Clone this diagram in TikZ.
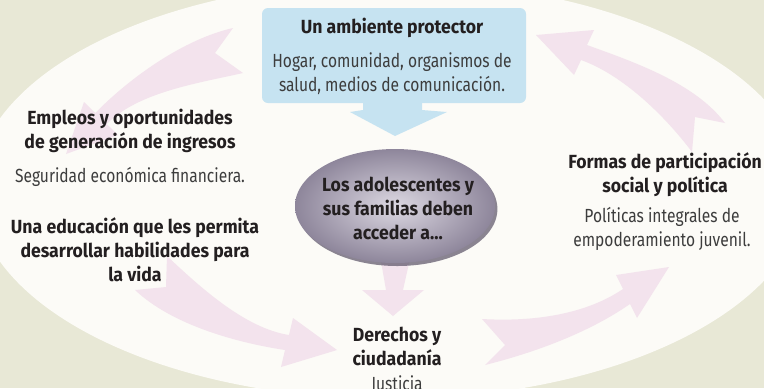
\documentclass[tikz,border=0pt]{standalone}
\usepackage{fontspec}
\setmainfont{Fira Sans}[FakeStretch=0.82]
\newfontfamily\negrita{Fira Sans}[FakeStretch=0.93]
\usetikzlibrary{shapes.geometric,shadows}
\definecolor{fondo}{HTML}{E8E8D6}
\definecolor{claro}{HTML}{FCFBF7}
\definecolor{celeste}{HTML}{C6E3F1}
\definecolor{rosa}{HTML}{F3E3ED}
\definecolor{texto}{HTML}{231F20}
\definecolor{gris}{HTML}{3D3D3D}
\definecolor{nucleoclaro}{HTML}{DCD8E2}
\definecolor{nucleooscuro}{HTML}{8E869B}
\definecolor{nucleosombra}{HTML}{5A5266}
\begin{document}
\begin{tikzpicture}[x=0.5pt,y=-0.5pt, titulo/.style={anchor=base, inner sep=0pt, align=center, text=texto, font=\negrita\bfseries\fontsize{9.5}{12}\selectfont},
 detalle/.style={anchor=base, inner sep=0pt, align=center, text=gris, font=\fontsize{9.5}{11.8}\selectfont},
 caja/.style={rectangle, rounded corners=3pt, fill=celeste, minimum width=132pt, minimum height=47.5pt},
 nucleo/.style={ellipse, inner sep=0pt, minimum width=100pt, minimum height=57pt, inner color=nucleoclaro, outer color=nucleooscuro, drop shadow={fill=nucleosombra, opacity=0.7, shadow xshift=1.2pt, shadow yshift=-1.5pt}},
 flecha/.style={fill=rosa}]
  \useasboundingbox (0,0) rectangle (764,388);
  \clip (0,0) rectangle (764,388);
  \fill[fondo] (0,0) rectangle (764,388);
  \fill[claro] (390,190) ellipse [x radius=415, y radius=209];

  \fill[flecha] (233,28) -- (215,53) -- (243,73) .. controls (199,83) and (138,92) .. (106.7,124) -- (118,135) -- (66,154) -- (84,102) -- (95.3,113) .. controls (130,77.5) and (184,39) .. (233,28) -- cycle;
  \fill[flecha] (167,256) -- (166,287) -- (135,290) .. controls (171.5,324.5) and (235.5,342.5) .. (285,350) -- (281,367) -- (337,350) -- (293,318) -- (289,335) .. controls (244.5,328) and (200,287) .. (167,256) -- cycle;
  \fill[flecha] (482,319) -- (505,345) -- (485,365) .. controls (535,352.5) and (589,332.5) .. (630,304) -- (637,318) -- (669,267) -- (616,275) -- (623,289) .. controls (586,314) and (535,322) .. (482,319) -- cycle;
  \fill[flecha] (725,123) -- (695,117) -- (692,152) .. controls (665,116) and (623,75) .. (581,60) -- (574,75) -- (536,35) -- (594,30) -- (587,45) .. controls (634,62) and (695,83) .. (725,123) -- cycle;
  \fill[flecha] (379,250) -- (412,250) -- (403,290) -- (424,290) -- (393,316) -- (362,290) -- (386,290) -- cycle;

  \node[caja] (ambiente) at (394,55.5) {};
  \fill[celeste] (363,100) -- (363,110) -- (350,112) -- (395,136) -- (447,112) -- (422,110) -- (422,100) -- cycle;
  \node[nucleo] (nucleo) at (395,206) {};

  \node[titulo] (ambiente-t) at (392,33) {Un ambiente protector};
  \node[detalle] (ambiente-d) at (392,91) {Hogar, comunidad, organismos de\\salud, medios de comunicación.};
  \node[titulo] (empleos) at (130,148) {Empleos y oportunidades\\de generación de ingresos};
  \node[detalle] (empleos-d) at (130,182) {Seguridad económica financiera.};
  \node[titulo] (educacion) at (135,281) {Una educación que les permita\\desarrollar habilidades para\\la vida};
  \node[titulo] (nucleo-t) at (398,239) {Los adolescentes y\\sus familias deben\\acceder a...};
  \node[titulo] (derechos) at (397,365) {Derechos y\\ciudadanía};
  \node[detalle] (derechos-d) at (397,390) {Justicia};
  \node[titulo] (formas) at (665,192) {Formas de participación\\social y política};
  \node[detalle] (formas-d) at (662,246) {Políticas integrales de\\empoderamiento juvenil.};
\end{tikzpicture}
\end{document}
